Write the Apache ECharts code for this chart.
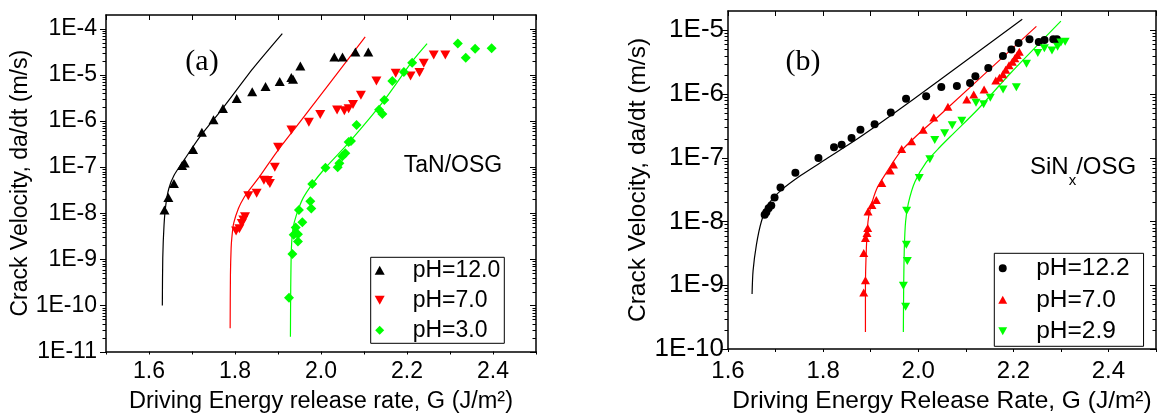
<!DOCTYPE html>
<html><head><meta charset="utf-8">
<script src="https://cdn.jsdelivr.net/npm/echarts@6/dist/echarts.min.js"></script>
<style>html,body{margin:0;padding:0;background:#fff}#c{width:1159px;height:419px}</style>
</head><body><div id="c"></div>
<script>
// ---------- Panel (a): TaN/OSG ----------
const aFit12 = [[1.631,1.0e-10],[1.632,1.06e-9],[1.635,5.6e-9],[1.639,1.5e-8],[1.646,3.4e-8],[1.658,6.6e-8],[1.681,1.4e-7],[1.719,4.65e-7],[1.770,1.82e-6],[1.842,1.39e-5],[1.910,7.9e-5]];
const aFit7 = [[1.7887,3.2e-11],[1.7894,4.6e-10],[1.7910,1.75e-9],[1.7926,2.9e-9],[1.7968,6.0e-9],[1.8079,1.27e-8],[1.8210,2.2e-8],[1.8349,3.35e-8],[1.8580,6.4e-8],[1.8965,2.1e-7],[1.9503,9.4e-7],[2.1028,6.7e-5]];
const aFit3 = [[1.9289,2.1e-11],[1.9296,2.4e-10],[1.9312,1.75e-9],[1.9349,4.7e-9],[1.9427,9.1e-9],[1.9580,2.1e-8],[1.9797,4.3e-8],[2.0104,9.7e-8],[2.0658,3.5e-7],[2.1473,2.85e-6],[2.2120,1.97e-5],[2.2467,4.8e-5]];
const aPH12 = [[1.636,1.17e-8],[1.645,2.2e-8],[1.658,4.4e-8],[1.677,1.09e-7],[1.683,1.23e-7],[1.7025,2.42e-7],[1.723,5.7e-7],[1.750,1.07e-6],[1.772,1.88e-6],[1.804,3.1e-6],[1.840,4.3e-6],[1.871,5.6e-6],[1.904,7.2e-6],[1.931,8.8e-6],[1.935,8.1e-6],[1.952,1.56e-5],[2.031,2.44e-5],[2.050,2.44e-5],[2.080,3.13e-5],[2.110,3.13e-5]];
const aPH7 = [[1.8025,4.1e-9],[1.8102,4.6e-9],[1.8157,6.0e-9],[1.8194,7.1e-9],[1.8233,8.4e-9],[1.8309,2.4e-8],[1.8503,2.7e-8],[1.8672,5.2e-8],[1.8764,5.1e-8],[1.8811,4.4e-8],[1.8926,1.0e-7],[1.9002,2.7e-7],[1.9312,6.4e-7],[1.9718,9.4e-7],[1.9982,1.39e-6],[2.0374,1.73e-6],[2.0543,1.67e-6],[2.0642,1.85e-6],[2.0744,2.28e-6],[2.0928,3.65e-6],[2.1289,7.4e-6],[2.1737,1.09e-5],[2.2083,9.5e-6],[2.2291,1.13e-5],[2.2390,1.79e-5],[2.2621,2.7e-5],[2.2891,2.7e-5]];
const aPH3 = [[1.9256,1.46e-10],[1.9335,1.30e-9],[1.9365,3.4e-9],[1.9411,4.9e-9],[1.9464,3.5e-9],[1.9464,2.44e-9],[1.9566,6.4e-9],[1.9487,1.17e-8],[1.9751,1.83e-8],[1.9774,1.27e-8],[1.9797,4.3e-8],[2.0104,9.7e-8],[2.0388,1.0e-7],[2.0427,1.22e-7],[2.0497,1.72e-7],[2.0566,2.0e-7],[2.0642,3.5e-7],[2.0697,3.7e-7],[2.0827,8.2e-7],[2.1351,1.76e-6],[2.1427,1.42e-6],[2.1473,2.85e-6],[2.1658,7.4e-6],[2.1928,1.16e-5],[2.2120,1.85e-5],[2.3182,4.8e-5],[2.3367,2.37e-5],[2.3584,3.7e-5],[2.3968,3.8e-5]];

// ---------- Panel (b): SiNx/OSG ----------
const bFit122 = [[1.6506,7.3e-10],[1.6527,1.68e-9],[1.6598,4.35e-9],[1.6702,1.0e-8],[1.6840,1.82e-8],[1.7119,3.1e-8],[1.7535,5.3e-8],[1.8021,9.1e-8],[1.8715,1.96e-7],[1.9410,4.5e-7],[2.0417,1.58e-6],[2.2188,1.48e-5]];
const bFit7 = [[1.8890,1.85e-10],[1.8890,9.2e-10],[1.8910,3.86e-9],[1.8944,1.0e-8],[1.8994,1.61e-8],[1.9131,3.3e-8],[1.9340,6.0e-8],[1.9619,1.22e-7],[1.9965,2.21e-7],[2.0417,4.4e-7],[2.2485,1.15e-5]];
const bFit29 = [[1.96875,1.85e-10],[1.9694,9.2e-10],[1.9708,3.86e-9],[1.9735,1.0e-8],[1.9792,1.93e-8],[1.9931,4.2e-8],[2.0173,8.6e-8],[2.0452,1.46e-7],[2.0729,2.35e-7],[2.125,5.7e-7],[2.1944,2.13e-6],[2.300,1.39e-5]];
const bPH122 = [[1.6771,1.27e-8],[1.6806,1.40e-8],[1.6854,1.61e-8],[1.6910,1.78e-8],[1.6979,2.37e-8],[1.7104,3.4e-8],[1.7417,5.8e-8],[1.7902,9.9e-8],[1.8229,1.46e-7],[1.8390,1.60e-7],[1.8598,2.04e-7],[1.8785,2.74e-7],[1.9083,3.36e-7],[1.9423,5.1e-7],[1.9744,8.4e-7],[2.0167,9.2e-7],[2.0485,1.29e-6],[2.0813,1.33e-6],[2.1090,1.49e-6],[2.1202,1.89e-6],[2.1473,2.55e-6],[2.1781,3.95e-6],[2.1958,5.0e-6],[2.2110,6.3e-6],[2.2340,7.2e-6],[2.2535,6.5e-6],[2.2656,7.0e-6],[2.2840,7.2e-6],[2.2917,7.2e-6]];
const bPH7 = [[1.8854,7.7e-10],[1.8890,1.20e-9],[1.8854,3.2e-9],[1.8890,5.5e-9],[1.8923,6.6e-9],[1.8938,7.9e-9],[1.8944,1.43e-8],[1.9027,1.82e-8],[1.9119,2.17e-8],[1.9235,4.0e-8],[1.9410,6.3e-8],[1.9479,7.8e-8],[1.9652,1.37e-7],[1.9860,1.81e-7],[2.0104,2.74e-7],[2.0327,4.27e-7],[2.0625,6.3e-7],[2.1021,8.2e-7],[2.1167,9.8e-7],[2.1385,1.17e-6],[2.1631,1.62e-6],[2.1708,1.80e-6],[2.1781,2.04e-6],[2.1840,2.39e-6],[2.1910,2.81e-6],[2.1979,3.19e-6],[2.2031,3.64e-6],[2.2083,4.1e-6],[2.2125,4.6e-6]];
const bPH29 = [[1.9735,4.6e-10],[1.9688,9.8e-10],[1.9771,2.4e-9],[1.9750,4.3e-9],[1.9756,1.47e-8],[2.0021,4.8e-8],[2.0244,9.5e-8],[2.0348,1.90e-7],[2.0556,2.41e-7],[2.0715,3.24e-7],[2.0917,3.8e-7],[2.1215,7.3e-7],[2.1375,6.9e-7],[2.1515,8.7e-7],[2.1785,1.17e-6],[2.2063,1.27e-6],[2.2277,2.97e-6],[2.2515,4.4e-6],[2.2652,5.2e-6],[2.2813,4.8e-6],[2.2931,5.5e-6],[2.3000,6.4e-6],[2.3090,6.6e-6]];

// axis ranges / texts
const aX = [1.5, 2.5], aY = [1e-11, 2e-4];
const bX = [1.6, 2.5], bY = [1e-10, 2e-5];
const xTitleA = 'Driving Energy release rate, G (J/m²)';
const xTitleB = 'Driving Energy Release Rate, G (J/m²)';
const yTitle = 'Crack Velocity, da/dt (m/s)';
const legA = ['pH=12.0', 'pH=7.0', 'pH=3.0'];
const legB = ['pH=12.2', 'pH=7.0', 'pH=2.9'];

const FONT = 'Liberation Sans';
const GREEN = '#00ff00', RED = '#ff0000', BLACK = '#000000';
const DOWN = 'path://M0,0L10,0L5,9Z';
const UP = 'path://M5,0L10,9L0,9Z';
const DIAM = 'path://M5,0L10,5L5,10L0,5Z';
const CIRC = 'path://M5,0A5,5,0,1,1,4.99,0Z';

function logTicks(range) {
  const out = [];
  const e0 = Math.round(Math.log10(range[0]));
  for (let e = e0; e < 0; e++) {
    for (let k = 1; k <= 9; k++) {
      const v = k * Math.pow(10, e);
      if (v >= range[1] * 0.999) return out;
      out.push(v);
    }
  }
  return out;
}
function tickRenderer(xMin) {
  return function (params, api) {
    const v = api.value(1);
    const cs = params.coordSys;
    const y = Math.round(api.coord([xMin, v])[1]) + 0.5;
    const lg = Math.log10(v);
    const major = Math.abs(lg - Math.round(lg)) < 1e-6;
    const len = major ? 6 : 3.5;
    const x0 = cs.x, x1 = cs.x + cs.width;
    return {type: 'group', children: [
      {type: 'line', shape: {x1: x0 - len, y1: y, x2: x0, y2: y}, style: {stroke: BLACK, lineWidth: 1}},
      {type: 'line', shape: {x1: x1 - len, y1: y, x2: x1, y2: y}, style: {stroke: BLACK, lineWidth: 1}}
    ]};
  };
}
const xFmt = v => (Math.round(v * 10) % 2 === 0) ? v.toFixed(1) : '';
const yFmt = v => { const e = Math.log10(v), r = Math.round(e); return Math.abs(e - r) < 1e-6 ? '1E' + r : ''; };
const axLine = {show: true, onZero: false, lineStyle: {color: BLACK, width: 1.5}};

function xAxes(grid, range, fs, margin, title, gap) {
  return [
    {type: 'value', gridIndex: grid, position: 'bottom', min: range[0], max: range[1], interval: 0.1,
     axisLine: axLine, splitLine: {show: false},
     axisTick: {show: true, inside: false, length: 3, lineStyle: {color: BLACK, width: 1}},
     axisLabel: {formatter: xFmt, fontSize: fs, fontFamily: FONT, color: BLACK, margin: margin},
     name: title, nameLocation: 'middle', nameGap: gap, nameTextStyle: {fontSize: fs + 0.5, fontFamily: FONT, color: BLACK}},
    {type: 'value', gridIndex: grid, position: 'top', min: range[0], max: range[1], interval: 0.1,
     axisLine: axLine, splitLine: {show: false},
     axisTick: {show: true, inside: true, length: 5, lineStyle: {color: BLACK, width: 1}},
     axisLabel: {show: false}}
  ];
}
function yAxes(grid, range, fs, margin, gap, tfs) {
  return [
    {type: 'log', logBase: 10, gridIndex: grid, position: 'left', min: range[0], max: range[1], splitNumber: 10,
     axisLine: axLine, splitLine: {show: false}, axisTick: {show: false}, minorTick: {show: false},
     axisLabel: {formatter: yFmt, fontSize: fs, fontFamily: FONT, color: BLACK, margin: margin},
     name: yTitle, nameLocation: 'middle', nameGap: gap, nameTextStyle: {fontSize: tfs, fontFamily: FONT, color: BLACK}},
    {type: 'log', logBase: 10, gridIndex: grid, position: 'right', min: range[0], max: range[1], splitNumber: 10,
     axisLine: axLine, splitLine: {show: false}, axisTick: {show: false}, axisLabel: {show: false}}
  ];
}
function fit(name, data, color, xi, yi) {
  return {type: 'line', name: name, data: data, xAxisIndex: xi, yAxisIndex: yi, showSymbol: false, symbol: 'none',
          smooth: 0.25, lineStyle: {color: color, width: 1.2}, itemStyle: {color: color}, z: 2, silent: true};
}
function pts(name, data, color, symbol, size, rot, xi, yi) {
  return {type: 'scatter', name: name, data: data, xAxisIndex: xi, yAxisIndex: yi, symbol: symbol,
          symbolSize: size, symbolRotate: rot, itemStyle: {color: color, opacity: 1}, z: 3, silent: true};
}
function legendCfg(names, icons, left, top, itemW, itemH, gap, pad, fs, textPadL) {
  return {show: true, orient: 'vertical', left: left, top: top, selectedMode: false,
          data: names.map((n, i) => ({name: n, icon: icons[i]})),
          itemWidth: itemW, itemHeight: itemH, itemGap: gap, padding: pad, symbolKeepAspect: true,
          borderColor: BLACK, borderWidth: 1, borderRadius: 0, backgroundColor: '#fff',
          textStyle: {fontSize: fs, fontFamily: FONT, color: BLACK, lineHeight: 24, padding: [0, 0, 0, textPadL]}};
}

const chart = echarts.init(document.getElementById('c'), null, {renderer: 'canvas'});
chart.setOption({
  animation: false,
  backgroundColor: '#fff',
  textStyle: {fontFamily: FONT},
  grid: [
    {left: 106, top: 15, width: 430, height: 339, containLabel: false},
    {left: 728, top: 11, width: 430, height: 341.3, containLabel: false}
  ],
  xAxis: [].concat(xAxes(0, aX, 23, 8.5, xTitleA, 38.5), xAxes(1, bX, 24, 10, xTitleB, 40)),
  yAxis: [].concat(yAxes(0, aY, 23, 9, 71, 23), yAxes(1, bY, 26, 4, 73, 24.5)),
  legend: [
    legendCfg(legA, [UP, DOWN, DIAM], 370.7, 257.3, 44, 9, 6, [1, 4, 1, 4], 23, 6),
    legendCfg(legB, [CIRC, UP, DOWN], 994.3, 253.3, 49, 8, 6.5, [2.5, 14, 2.5, 4], 24.5, 4)
  ],
  series: [
    fit('fitA12', aFit12, BLACK, 0, 0),
    fit('fitA7', aFit7, RED, 0, 0),
    fit('fitA3', aFit3, GREEN, 0, 0),
    pts(legA[0], aPH12, BLACK, 'triangle', [10, 9], 0, 0, 0),
    pts(legA[1], aPH7, RED, 'triangle', [10, 9], 180, 0, 0),
    pts(legA[2], aPH3, GREEN, 'diamond', 10, 0, 0, 0),
    {type: 'custom', name: 'ticksA', xAxisIndex: 0, yAxisIndex: 0, silent: true, clip: false, z: 5,
     renderItem: tickRenderer(aX[0]), data: logTicks(aY).map(v => [aX[0], v])},
    fit('fitB122', bFit122, BLACK, 2, 2),
    fit('fitB7', bFit7, RED, 2, 2),
    fit('fitB29', bFit29, GREEN, 2, 2),
    pts(legB[0], bPH122, BLACK, 'circle', 8, 0, 2, 2),
    pts(legB[1], bPH7, RED, 'triangle', [9, 8], 0, 2, 2),
    pts(legB[2], bPH29, GREEN, 'triangle', [9, 8], 180, 2, 2),
    {type: 'custom', name: 'ticksB', xAxisIndex: 2, yAxisIndex: 2, silent: true, clip: false, z: 5,
     renderItem: tickRenderer(bX[0]), data: logTicks(bY).map(v => [bX[0], v])}
  ],
  graphic: [
    {type: 'text', x: 202, y: 62, style: {text: '(a)', fontSize: 30, fontFamily: 'Liberation Serif', fill: BLACK, align: 'center', verticalAlign: 'middle'}},
    {type: 'text', x: 803, y: 62, style: {text: '(b)', fontSize: 30, fontFamily: 'Liberation Serif', fill: BLACK, align: 'center', verticalAlign: 'middle'}},
    {type: 'text', x: 453, y: 166, style: {text: 'TaN/OSG', fontSize: 23, fontFamily: FONT, fill: BLACK, align: 'center', verticalAlign: 'middle'}},
    {type: 'text', x: 1030, y: 167.5, style: {text: '{m|SiN}{s|x}{m|/OSG}', fill: BLACK, align: 'left', verticalAlign: 'middle',
      rich: {m: {fontSize: 24, fontFamily: FONT, fill: BLACK}, s: {fontSize: 15, fontFamily: FONT, fill: BLACK, padding: [26, 0, 0, 0]}}}}
  ]
});
</script>
</body></html>
